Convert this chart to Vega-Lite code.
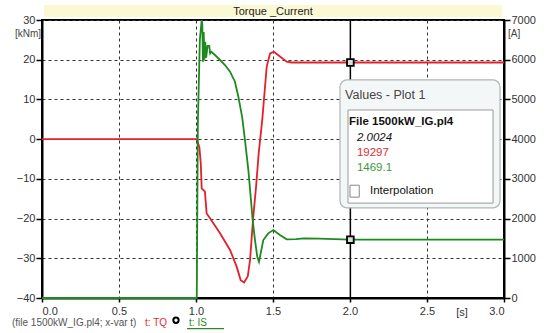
{
  "$schema": "https://vega.github.io/schema/vega-lite/v6.json",
  "width": 462,
  "height": 278,
  "autosize": "none",
  "padding": {"left": 42, "top": 20, "right": 41, "bottom": 35},
  "background": "white",
  "config": {
    "view": {"stroke": "black", "strokeWidth": 2},
    "font": "Liberation Sans",
    "axis": {
      "labelFont": "Liberation Sans",
      "labelFontSize": 11,
      "labelColor": "#333333",
      "domainColor": "black",
      "domainWidth": 2,
      "tickColor": "black",
      "tickWidth": 1.5,
      "title": null
    }
  },
  "datasets": {
    "tq": [
      {"t": 0, "TQ": 0}, {"t": 1.005, "TQ": 0}, {"t": 1.022, "TQ": -2}, {"t": 1.031, "TQ": -6.1},
      {"t": 1.037, "TQ": -12.4}, {"t": 1.058, "TQ": -13.2}, {"t": 1.069, "TQ": -18.7}, {"t": 1.091, "TQ": -19.9},
      {"t": 1.156, "TQ": -23.7}, {"t": 1.221, "TQ": -27.9}, {"t": 1.264, "TQ": -32.1}, {"t": 1.29, "TQ": -35.5},
      {"t": 1.312, "TQ": -36.1}, {"t": 1.336, "TQ": -34.6}, {"t": 1.351, "TQ": -30.4}, {"t": 1.362, "TQ": -24.6},
      {"t": 1.372, "TQ": -19.5}, {"t": 1.39, "TQ": -12}, {"t": 1.407, "TQ": -3.6}, {"t": 1.43, "TQ": 4.8},
      {"t": 1.459, "TQ": 18.2}, {"t": 1.481, "TQ": 21.6}, {"t": 1.506, "TQ": 22.0}, {"t": 1.545, "TQ": 20.8},
      {"t": 1.589, "TQ": 19.5}, {"t": 1.621, "TQ": 19.3}, {"t": 2.0, "TQ": 19.3}, {"t": 3.0, "TQ": 19.3}
    ],
    "is": [
      {"t": 0, "IS": 0}, {"t": 1.005, "IS": 0}, {"t": 1.012, "IS": 4400}, {"t": 1.025, "IS": 6500},
      {"t": 1.037, "IS": 7000}, {"t": 1.041, "IS": 6900}, {"t": 1.045, "IS": 5950}, {"t": 1.05, "IS": 6700},
      {"t": 1.055, "IS": 6000}, {"t": 1.06, "IS": 6450}, {"t": 1.066, "IS": 6050}, {"t": 1.075, "IS": 6350},
      {"t": 1.086, "IS": 6350}, {"t": 1.092, "IS": 6160}, {"t": 1.1, "IS": 6200}, {"t": 1.123, "IS": 6118},
      {"t": 1.156, "IS": 5993}, {"t": 1.188, "IS": 5867}, {"t": 1.221, "IS": 5700}, {"t": 1.253, "IS": 5446},
      {"t": 1.275, "IS": 5069}, {"t": 1.3, "IS": 4550}, {"t": 1.318, "IS": 3978}, {"t": 1.34, "IS": 3222},
      {"t": 1.355, "IS": 2550}, {"t": 1.368, "IS": 1963}, {"t": 1.383, "IS": 1460}, {"t": 1.398, "IS": 1040},
      {"t": 1.409, "IS": 914}, {"t": 1.42, "IS": 1125}, {"t": 1.437, "IS": 1460}, {"t": 1.469, "IS": 1628},
      {"t": 1.502, "IS": 1712}, {"t": 1.545, "IS": 1586}, {"t": 1.589, "IS": 1478}, {"t": 1.65, "IS": 1480},
      {"t": 1.7, "IS": 1500}, {"t": 1.8, "IS": 1495}, {"t": 2.0, "IS": 1469}, {"t": 3.0, "IS": 1469}
    ],
    "cursor": [{"t": 2.0024, "TQ": 19.297, "IS": 1469.1}],
    "one": [{"k": 1}]
  },
  "layer": [
    {
      "layer": [
        {
          "data": {"name": "tq"},
          "mark": {"type": "line", "color": "#e3202b", "strokeWidth": 1.8},
          "encoding": {
            "x": {"field": "t", "type": "quantitative", "scale": {"domain": [0, 3], "nice": false, "zero": false},
              "axis": {"values": [0, 0.5, 1, 1.5, 2, 2.5, 3], "format": ".1f", "grid": true, "gridDash": [3, 3], "gridColor": "#333333", "gridWidth": 1, "tickSize": 4, "labelPadding": 3}},
            "y": {"field": "TQ", "type": "quantitative", "scale": {"domain": [-40, 30], "nice": false, "zero": false},
              "axis": {"orient": "left", "values": [-40, -30, -20, -10, 0, 10, 20, 30], "grid": true, "gridDash": [3, 3], "gridColor": "#333333", "gridWidth": 1, "tickSize": 6, "labelPadding": 1}}
          }
        },
        {
          "data": {"name": "cursor"},
          "mark": {"type": "rule", "color": "black", "strokeWidth": 1.5},
          "encoding": {"x": {"field": "t", "type": "quantitative",
              "axis": {"values": [0, 0.5, 1, 1.5, 2, 2.5, 3], "format": ".1f", "grid": true, "gridDash": [3, 3], "gridColor": "#333333", "gridWidth": 1, "tickSize": 4, "labelPadding": 3}}}
        },
        {
          "data": {"name": "cursor"},
          "mark": {"type": "point", "shape": "square", "size": 45, "filled": false, "stroke": "black", "strokeWidth": 1.8, "fill": "#dddddd", "fillOpacity": 1, "opacity": 1},
          "encoding": {
            "x": {"field": "t", "type": "quantitative",
              "axis": {"values": [0, 0.5, 1, 1.5, 2, 2.5, 3], "format": ".1f", "grid": true, "gridDash": [3, 3], "gridColor": "#333333", "gridWidth": 1, "tickSize": 4, "labelPadding": 3}},
            "y": {"field": "TQ", "type": "quantitative",
              "axis": {"orient": "left", "values": [-40, -30, -20, -10, 0, 10, 20, 30], "grid": true, "gridDash": [3, 3], "gridColor": "#333333", "gridWidth": 1, "tickSize": 6, "labelPadding": 1}}
          }
        }
      ]
    },
    {
      "layer": [
        {
          "data": {"name": "is"},
          "mark": {"type": "line", "color": "#1e8a1e", "strokeWidth": 1.8},
          "encoding": {
            "x": {"field": "t", "type": "quantitative", "scale": {"domain": [0, 3], "nice": false, "zero": false}, "axis": null},
            "y": {"field": "IS", "type": "quantitative", "scale": {"domain": [0, 7000], "nice": false, "zero": false},
              "axis": {"orient": "right", "values": [0, 1000, 2000, 3000, 4000, 5000, 6000, 7000], "format": "d", "grid": false, "tickSize": 6, "labelPadding": 1}}
          }
        },
        {
          "data": {"name": "cursor"},
          "mark": {"type": "point", "shape": "square", "size": 45, "filled": false, "stroke": "black", "strokeWidth": 1.8, "fill": "#dddddd", "fillOpacity": 1, "opacity": 1},
          "encoding": {
            "x": {"field": "t", "type": "quantitative", "axis": null},
            "y": {"field": "IS", "type": "quantitative",
              "axis": {"orient": "right", "values": [0, 1000, 2000, 3000, 4000, 5000, 6000, 7000], "format": "d", "grid": false, "tickSize": 6, "labelPadding": 1}}
          }
        }
      ]
    },
    {
      "layer": [
        {
          "data": {"name": "one"},
          "mark": {"type": "rect", "fill": "#fbf8d4"},
          "encoding": {"x": {"datum": 0.013, "scale": {"domain": [0, 3], "nice": false, "zero": false}, "axis": null}, "x2": {"datum": 2.987},
            "y": {"datum": 30.76, "scale": {"domain": [-40, 30], "nice": false, "zero": false}, "axis": null}, "y2": {"datum": 33.78}}
        },
        {
          "data": {"name": "one"},
          "mark": {"type": "text", "fontSize": 11, "color": "#222222", "baseline": "middle"},
          "encoding": {"x": {"datum": 1.5, "axis": null}, "y": {"datum": 32.0, "axis": null}, "text": {"value": "Torque _Current"}}
        },
        {
          "data": {"name": "one"},
          "mark": {"type": "text", "fontSize": 10, "color": "#444444", "align": "right", "baseline": "middle"},
          "encoding": {"x": {"datum": -0.006, "axis": null}, "y": {"datum": 26.6, "axis": null}, "text": {"value": "[kNm]"}}
        },
        {
          "data": {"name": "one"},
          "mark": {"type": "text", "fontSize": 10, "color": "#444444", "align": "left", "baseline": "middle"},
          "encoding": {"x": {"datum": 3.026, "axis": null}, "y": {"datum": 26.6, "axis": null}, "text": {"value": "[A]"}}
        },
        {
          "data": {"name": "one"},
          "mark": {"type": "text", "fontSize": 11, "color": "#333333", "align": "center", "baseline": "middle"},
          "encoding": {"x": {"datum": 2.727, "axis": null}, "y": {"datum": -43.8, "axis": null}, "text": {"value": "[s]"}}
        },
        {
          "data": {"name": "one"},
          "mark": {"type": "rect", "fill": "#f4f7f7", "stroke": "#b0b5b5", "strokeWidth": 1.2, "cornerRadius": 7},
          "encoding": {"x": {"datum": 1.935, "axis": null}, "x2": {"datum": 2.974}, "y": {"datum": 14.9, "axis": null}, "y2": {"datum": -17.3}}
        },
        {
          "data": {"name": "one"},
          "mark": {"type": "rect", "fill": "white", "stroke": "#9a9a9a", "strokeWidth": 1},
          "encoding": {"x": {"datum": 1.987, "axis": null}, "x2": {"datum": 2.929}, "y": {"datum": 7.34, "axis": null}, "y2": {"datum": -16.1}}
        },
        {
          "data": {"name": "one"},
          "mark": {"type": "text", "fontSize": 12.5, "color": "#444444", "align": "left", "baseline": "middle"},
          "encoding": {"x": {"datum": 1.968, "axis": null}, "y": {"datum": 11.1, "axis": null}, "text": {"value": "Values - Plot 1"}}
        },
        {
          "data": {"name": "one"},
          "mark": {"type": "text", "fontSize": 11.5, "fontWeight": "bold", "color": "#111111", "align": "left", "baseline": "middle"},
          "encoding": {"x": {"datum": 1.994, "axis": null}, "y": {"datum": 4.3, "axis": null}, "text": {"value": "File 1500kW_IG.pl4"}}
        },
        {
          "data": {"name": "one"},
          "mark": {"type": "text", "fontSize": 11.5, "fontStyle": "italic", "color": "#111111", "align": "left", "baseline": "middle"},
          "encoding": {"x": {"datum": 2.045, "axis": null}, "y": {"datum": 0.3, "axis": null}, "text": {"value": "2.0024"}}
        },
        {
          "data": {"name": "one"},
          "mark": {"type": "text", "fontSize": 11.5, "color": "#e03030", "align": "left", "baseline": "middle"},
          "encoding": {"x": {"datum": 2.045, "axis": null}, "y": {"datum": -3.5, "axis": null}, "text": {"value": "19297"}}
        },
        {
          "data": {"name": "one"},
          "mark": {"type": "text", "fontSize": 11.5, "color": "#3a9a3a", "align": "left", "baseline": "middle"},
          "encoding": {"x": {"datum": 2.045, "axis": null}, "y": {"datum": -7.3, "axis": null}, "text": {"value": "1469.1"}}
        },
        {
          "data": {"name": "one"},
          "mark": {"type": "rect", "fill": "white", "stroke": "#888888", "strokeWidth": 1},
          "encoding": {"x": {"datum": 2.0, "axis": null}, "x2": {"datum": 2.06}, "y": {"datum": -11.6, "axis": null}, "y2": {"datum": -14.6}}
        },
        {
          "data": {"name": "one"},
          "mark": {"type": "text", "fontSize": 11.5, "color": "#111111", "align": "left", "baseline": "middle"},
          "encoding": {"x": {"datum": 2.13, "axis": null}, "y": {"datum": -13.1, "axis": null}, "text": {"value": "Interpolation"}}
        },
        {
          "data": {"name": "one"},
          "mark": {"type": "text", "fontSize": 10, "color": "#555555", "align": "left", "baseline": "middle"},
          "encoding": {"x": {"datum": -0.195, "axis": null}, "y": {"datum": -46.3, "axis": null}, "text": {"value": "(file 1500kW_IG.pl4; x-var t)"}}
        },
        {
          "data": {"name": "one"},
          "mark": {"type": "text", "fontSize": 10, "color": "#e03030", "align": "left", "baseline": "middle"},
          "encoding": {"x": {"datum": 0.669, "axis": null}, "y": {"datum": -46.3, "axis": null}, "text": {"value": "t: TQ"}}
        },
        {
          "data": {"name": "one"},
          "mark": {"type": "point", "shape": "circle", "size": 28, "filled": false, "stroke": "black", "strokeWidth": 2, "opacity": 1},
          "encoding": {"x": {"datum": 0.87, "axis": null}, "y": {"datum": -45.6, "axis": null}}
        },
        {
          "data": {"name": "one"},
          "mark": {"type": "text", "fontSize": 10, "color": "#2a8a2a", "align": "left", "baseline": "middle"},
          "encoding": {"x": {"datum": 0.955, "axis": null}, "y": {"datum": -46.3, "axis": null}, "text": {"value": "t: IS"}}
        },
        {
          "data": {"name": "one"},
          "mark": {"type": "rule", "color": "#2a8a2a", "strokeWidth": 1.2},
          "encoding": {"x": {"datum": 0.942, "axis": null}, "x2": {"datum": 1.182}, "y": {"datum": -47.7, "axis": null}}
        }
      ]
    }
  ],
  "resolve": {"scale": {"x": "independent", "y": "independent"}, "axis": {"x": "independent", "y": "independent"}}
}
